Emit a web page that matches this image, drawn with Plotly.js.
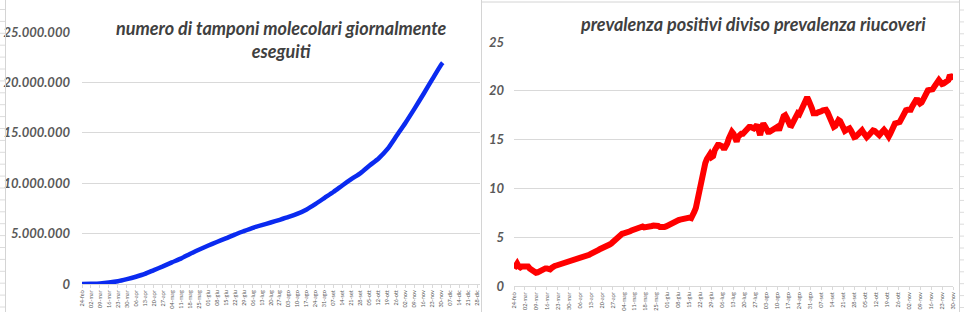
<!DOCTYPE html>
<html>
<head>
<meta charset="utf-8">
<script src="https://cdn.plot.ly/plotly-3.0.1.min.js"></script>
<style>
html,body{margin:0;padding:0;background:#fff;}
#chart{width:964px;height:312px;}
</style>
</head>
<body>
<div id="chart"></div>
<script>
// ---------- DATA ----------
const startDate = '2020-02-24';

// Left chart: cumulative molecular swabs (weekly readings, Mondays, plus 1 Dec)
const tamponiDates = ['2020-02-24','2020-03-02','2020-03-09','2020-03-16','2020-03-23','2020-03-30',
  '2020-04-06','2020-04-13','2020-04-20','2020-04-27','2020-05-04','2020-05-11','2020-05-18','2020-05-25',
  '2020-06-01','2020-06-08','2020-06-15','2020-06-22','2020-06-29','2020-07-06','2020-07-13','2020-07-20',
  '2020-07-27','2020-08-03','2020-08-10','2020-08-17','2020-08-24','2020-08-31','2020-09-07','2020-09-14',
  '2020-09-21','2020-09-28','2020-10-05','2020-10-12','2020-10-19','2020-10-26','2020-11-02','2020-11-09',
  '2020-11-16','2020-11-23','2020-11-30','2020-12-01'];
const tamponi = [4324, 23000, 54000, 140000, 270000, 480000,
  720000, 1000000, 1380000, 1750000, 2150000, 2520000, 2980000, 3400000,
  3800000, 4170000, 4520000, 4900000, 5240000, 5570000, 5840000, 6100000,
  6370000, 6650000, 6980000, 7400000, 7950000, 8550000, 9150000, 9800000,
  10420000, 11000000, 11750000, 12450000, 13400000, 14700000, 16000000, 17400000,
  18850000, 20350000, 21800000, 21950000];

// Right chart: daily ratio positives / recovered (from 24 Feb to 30 Nov)
const rapporto = [
  1.8,2.1,2.3,2.0,1.9,2.0,2.0,2.1,2.1,2.0,
  1.8,1.65,1.55,1.4,1.35,1.4,1.5,1.55,1.6,1.7,
  1.8,1.8,1.75,1.7,1.85,2.05,2.05,2.1,2.15,2.2,
  2.2,2.25,2.3,2.35,2.4,2.45,2.5,2.55,2.6,2.7,
  2.75,2.85,2.9,2.95,3.0,3.05,3.1,3.15,3.2,3.3,
  3.35,3.4,3.45,3.55,3.7,3.8,3.85,3.9,3.95,4.05,
  4.15,4.25,4.35,4.5,4.65,4.85,5.0,5.2,5.3,5.35,
  5.4,5.45,5.35,5.55,5.6,5.7,5.75,5.85,5.95,6.05,
  6.1,6.15,6.1,6.0,6.0,6.05,6.1,6.1,6.15,6.2,
  6.2,6.25,6.15,6.05,6.0,6.0,6.05,6.1,6.2,6.25,
  6.3,6.4,6.45,6.55,6.65,6.75,6.8,6.85,6.8,6.85,
  7.0,7.05,7.0,6.95,7.2,7.6,8.0,8.8,10.0,10.8,
  11.5,12.1,12.6,13.0,13.4,13.5,13.2,13.3,13.9,14.4,
  14.45,14.45,14.4,14.3,14.0,14.2,14.6,15.1,15.4,15.8,
  15.6,15.0,14.8,15.3,15.5,15.6,15.6,15.8,15.9,16.1,
  16.3,16.3,16.2,16.15,16.3,16.5,16.0,15.45,16.2,16.65,
  16.4,16.0,15.8,15.8,15.9,15.95,16.1,16.2,16.3,15.95,
  16.3,16.9,17.4,17.5,17.2,16.8,16.5,16.45,16.8,17.3,
  17.65,17.7,17.6,18.0,18.5,18.6,19.1,19.35,19.0,18.7,
  18.2,17.7,17.65,17.7,17.8,17.8,17.9,18.0,18.05,18.05,
  17.8,17.3,16.8,16.4,16.3,16.4,16.7,17.0,16.9,16.5,
  16.1,15.9,16.0,16.1,16.15,15.9,15.5,15.25,15.3,15.5,
  15.7,15.9,15.95,15.7,15.35,15.25,15.4,15.6,15.8,15.95,
  15.9,15.7,15.5,15.45,15.65,15.85,16.0,15.8,15.4,15.3,
  15.6,16.0,16.4,16.65,16.7,16.75,16.8,17.1,17.5,17.8,
  18.0,18.05,18.0,18.05,18.4,18.8,19.1,19.2,18.9,18.7,
  18.8,19.1,19.5,19.9,20.05,20.1,20.1,20.15,20.4,20.7,
  21.0,21.1,20.9,20.7,20.75,20.85,20.9,21.1,21.6,21.4,
  21.5];

// Weekly tick labels
const tickLabels = ['24-feb','02-mar','09-mar','16-mar','23-mar','30-mar','06-apr','13-apr','20-apr','27-apr',
  '04-mag','11-mag','18-mag','25-mag','01-giu','08-giu','15-giu','22-giu','29-giu','06-lug','13-lug','20-lug',
  '27-lug','03-ago','10-ago','17-ago','24-ago','31-ago','07-set','14-set','21-set','28-set','05-ott','12-ott',
  '19-ott','26-ott','02-nov','09-nov','16-nov','23-nov','30-nov','07-dic','14-dic','21-dic','28-dic'];
const rightTickCount = 41;

const titleLeft = 'numero di tamponi molecolari giornalmente<br>eseguiti';
const titleRight = 'prevalenza positivi diviso prevalenza riucoveri';

// ---------- helpers ----------
function addDays(iso, n) {
  const d = new Date(iso + 'T00:00:00Z');
  d.setUTCDate(d.getUTCDate() + n);
  return d.toISOString().slice(0, 10);
}
const dailyDates = rapporto.map((_, i) => addDays(startDate, i));
const weeklyTicks = tickLabels.map((_, i) => addDays(startDate, 7 * i));

// ---------- layout geometry ----------
const W = 964, H = 312;
const px = v => v / W;
const py = v => (H - v) / H;

const FONT = 'Lato, "Open Sans", "Liberation Sans", sans-serif';
const grid = '#d9d9d9';

const traces = [
  {
    x: tamponiDates, y: tamponi, type: 'scatter', mode: 'lines',
    line: {color: '#0a2af0', width: 4.5, shape: 'spline', smoothing: 0.6},
    xaxis: 'x', yaxis: 'y', hoverinfo: 'skip'
  },
  {
    x: dailyDates, y: rapporto, type: 'scatter', mode: 'lines',
    line: {color: '#ff0000', width: 6},
    xaxis: 'x2', yaxis: 'y2', hoverinfo: 'skip'
  }
];

const xCommon = {
  type: 'date', showgrid: false, zeroline: false,
  showline: true, linecolor: grid, linewidth: 1,
  ticks: 'outside', ticklen: 3, tickcolor: grid,
  tickangle: -90, tickfont: {family: FONT, size: 5.5, color: '#595959'},
  ticklabelstandoff: 0, fixedrange: true
};
const yCommon = {
  showgrid: true, gridcolor: grid, gridwidth: 1, zeroline: false, showline: false,
  ticks: '', tickfont: {family: FONT, size: 13, color: '#595959', weight: 'bold', style: 'italic'},
  fixedrange: true
};

const shapes = [];
// frame lines of the spreadsheet objects
[5.5, 481.5, 959.5].forEach(x => shapes.push({type: 'line', xref: 'paper', yref: 'paper',
  x0: px(x), x1: px(x), y0: 0, y1: 1, line: {color: '#d4d4d4', width: 1}}));
shapes.push({type: 'line', xref: 'paper', yref: 'paper', x0: px(481.5), x1: px(959.5),
  y0: py(2), y1: py(2), line: {color: '#d4d4d4', width: 1}});
// spreadsheet row marks at the edges
for (let y = 9.5; y < H; y += 11.9) {
  shapes.push({type: 'line', xref: 'paper', yref: 'paper', x0: 0, x1: px(5), y0: py(y), y1: py(y),
    line: {color: '#dcdcdc', width: 1}});
  shapes.push({type: 'line', xref: 'paper', yref: 'paper', x0: px(960), x1: 1, y0: py(y + 0.5), y1: py(y + 0.5),
    line: {color: '#dcdcdc', width: 1}});
}

const layout = {
  width: W, height: H,
  margin: {l: 0, r: 0, t: 0, b: 0},
  paper_bgcolor: '#ffffff', plot_bgcolor: '#ffffff',
  showlegend: false,
  separators: ',.',
  xaxis: Object.assign({}, xCommon, {
    domain: [px(82), px(480)], anchor: 'y',
    range: [startDate, addDays(startDate, 310)],
    tickmode: 'array', tickvals: weeklyTicks, ticktext: tickLabels
  }),
  yaxis: Object.assign({}, yCommon, {
    domain: [py(284), py(32)], anchor: 'x',
    range: [0, 25000000], tickmode: 'linear', tick0: 0, dtick: 5000000,
    tickformat: ',d', ticklabelstandoff: 11
  }),
  xaxis2: Object.assign({}, xCommon, {
    domain: [px(514), px(953)], anchor: 'y2',
    range: [startDate, addDays(startDate, rapporto.length - 1)],
    tickmode: 'array', tickvals: weeklyTicks.slice(0, rightTickCount),
    ticktext: tickLabels.slice(0, rightTickCount)
  }),
  yaxis2: Object.assign({}, yCommon, {
    domain: [py(286), py(42)], anchor: 'x2',
    range: [0, 25], tickmode: 'linear', tick0: 0, dtick: 5,
    ticklabelstandoff: 9
  }),
  annotations: [
    {text: titleLeft, xref: 'paper', yref: 'paper', x: px(281), y: py(39.5),
     xanchor: 'center', yanchor: 'middle', showarrow: false, align: 'center',
     font: {family: FONT, size: 18, color: '#404040', weight: 'bold', style: 'italic'}},
    {text: titleRight, xref: 'paper', yref: 'paper', x: px(753), y: py(24),
     xanchor: 'center', yanchor: 'middle', showarrow: false,
     font: {family: FONT, size: 18, color: '#404040', weight: 'bold', style: 'italic'}}
  ],
  shapes: shapes
};

Plotly.newPlot('chart', traces, layout, {staticPlot: true, displayModeBar: false});
</script>
</body>
</html>
